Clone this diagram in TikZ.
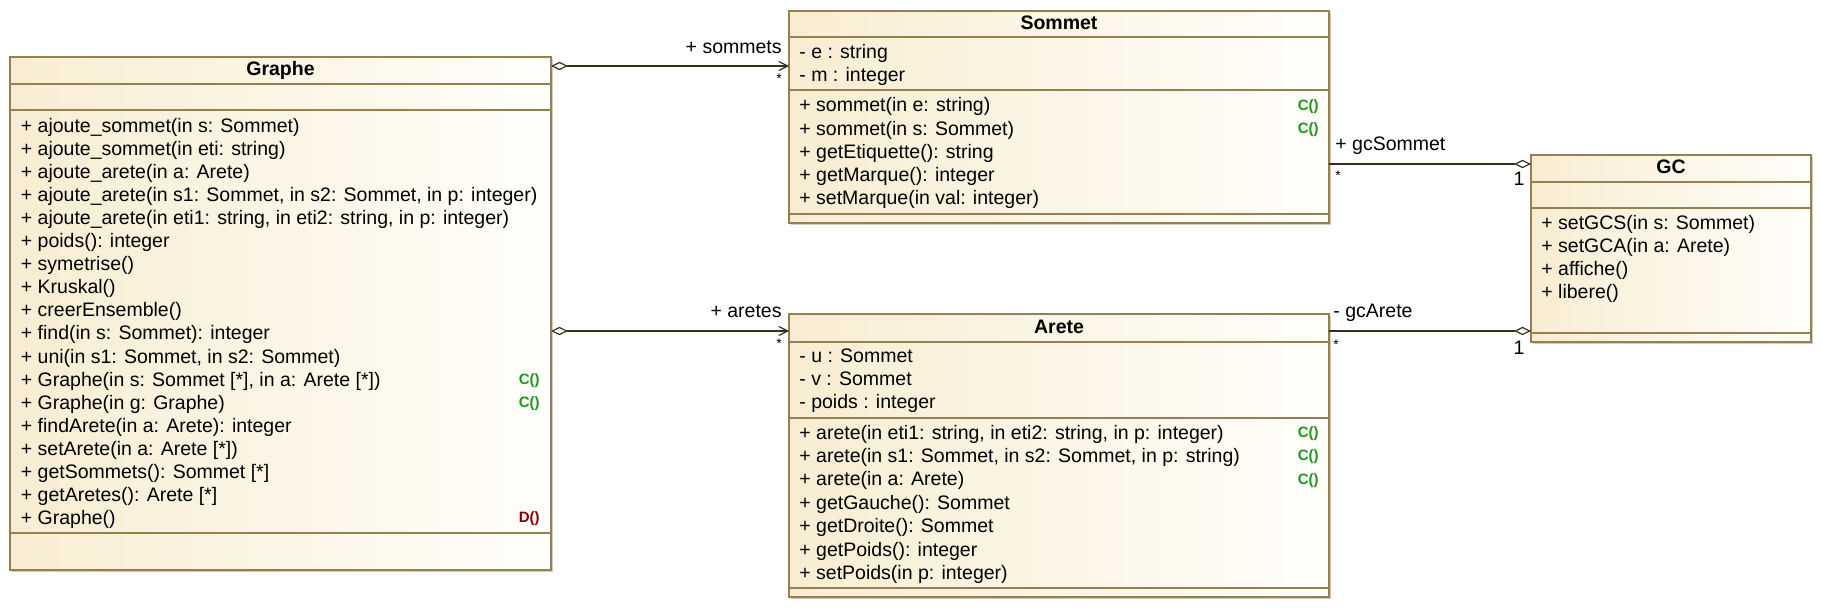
\documentclass[tikz,border=0pt]{standalone}
\usepackage{fontspec}
\setmainfont{Liberation Sans}
\usetikzlibrary{arrows.meta,calc}
\definecolor{bord}{RGB}{150,128,80}
\definecolor{fillL}{RGB}{248,237,210}
\definecolor{fillR}{RGB}{255,254,250}
\definecolor{shad}{RGB}{212,204,186}
\definecolor{lin}{RGB}{55,45,30}
\definecolor{cgreen}{RGB}{30,150,30}
\definecolor{dred}{RGB}{130,0,0}
\tikzset{
  classbox/.style={draw=bord, line width=0.6pt, left color=fillL, right color=fillR, inner sep=0pt, outer sep=0pt, anchor=north west},
  sepline/.style={draw=bord, line width=0.6pt},
  shadowbox/.style={fill=shad},
  txt/.style={font=\fontsize{9.75pt}{11.5pt}\selectfont, inner sep=0pt, text height=7.2pt, text depth=2.1pt, anchor=west},
  ttl/.style={font=\fontsize{9.75pt}{11.5pt}\selectfont\bfseries, inner sep=0pt, text height=7.2pt, text depth=2.1pt, anchor=center},
  ctor/.style={font=\fontsize{7.5pt}{8pt}\selectfont\bfseries, text=cgreen, inner sep=0pt, text height=5pt, text depth=1.5pt, anchor=east},
  dtor/.style={ctor, text=dred},
  mult/.style={font=\fontsize{7pt}{8pt}\selectfont, inner sep=0pt, anchor=base},
  conn/.style={draw=lin, line width=0.6pt},
  agg/.tip={Diamond[open, fill=white, length=8.5pt, width=4.2pt]},
  nav/.tip={Straight Barb[length=4.5pt, width=4.6pt]}
}
\begin{document}
\begin{tikzpicture}[x=0.5pt,y=-0.5pt]
\useasboundingbox (0,0) rectangle (1823,609);

% ---------- Graphe ----------
\fill[shadowbox] (12,59) rectangle (553,572);
\node[classbox, minimum width=270.5pt, minimum height=256.5pt] (graphe) at (10,57) {};
\draw[sepline] (10,84) -- (551,84);
\draw[sepline] (10,110) -- (551,110);
\draw[sepline] (10,533) -- (551,533);
\node[ttl] (gtitle) at (280.5,70.5) {Graphe};
\foreach \t [count=\i] in {
  {+ ajoute\_sommet(in s: Sommet)},
  {+ ajoute\_sommet(in eti: string)},
  {+ ajoute\_arete(in a: Arete)},
  {+ ajoute\_arete(in s1: Sommet, in s2: Sommet, in p: integer)},
  {+ ajoute\_arete(in eti1: string, in eti2: string, in p: integer)},
  {+ poids(): integer},
  {+ symetrise()},
  {+ Kruskal()},
  {+ creerEnsemble()},
  {+ find(in s: Sommet): integer},
  {+ uni(in s1: Sommet, in s2: Sommet)},
  {+ Graphe(in s: Sommet [*], in a: Arete [*])},
  {+ Graphe(in g: Graphe)},
  {+ findArete(in a: Arete): integer},
  {+ setArete(in a: Arete [*])},
  {+ getSommets(): Sommet [*]},
  {+ getAretes(): Arete [*]},
  {+ Graphe()}}
  \node[txt] (gm\i) at (20.5,{127.3+23.06*(\i-1)}) {\t};
\node[ctor] (gc1) at (540,{127.3+23.06*11}) {C()};
\node[ctor] (gc2) at (540,{127.3+23.06*12}) {C()};
\node[dtor] (gd1) at (540,{127.3+23.06*17}) {D()};

% ---------- Sommet ----------
\fill[shadowbox] (791,13) rectangle (1331,225);
\node[classbox, minimum width=270pt, minimum height=106pt] (sommet) at (789,11) {};
\draw[sepline] (789,37) -- (1329,37);
\draw[sepline] (789,90) -- (1329,90);
\draw[sepline] (789,214) -- (1329,214);
\node[ttl] (stitle) at (1059,24) {Sommet};
\node[txt] (sa1) at (799,53.3) {- e : string};
\node[txt] (sa2) at (799,76.7) {- m : integer};
\foreach \t [count=\i] in {
  {+ sommet(in e: string)},
  {+ sommet(in s: Sommet)},
  {+ getEtiquette(): string},
  {+ getMarque(): integer},
  {+ setMarque(in val: integer)}}
  \node[txt] (sm\i) at (799,{106.7+23.3*(\i-1)}) {\t};
\node[ctor] (sc1) at (1319,106.7) {C()};
\node[ctor] (sc2) at (1319,130) {C()};

% ---------- Arete ----------
\fill[shadowbox] (791,316) rectangle (1331,599);
\node[classbox, minimum width=270pt, minimum height=141.5pt] (arete) at (789,314) {};
\draw[sepline] (789,342) -- (1329,342);
\draw[sepline] (789,418) -- (1329,418);
\draw[sepline] (789,588) -- (1329,588);
\node[ttl] (atitle) at (1059,328) {Arete};
\node[txt] (aa1) at (799,357.7) {- u : Sommet};
\node[txt] (aa2) at (799,380.7) {- v : Sommet};
\node[txt] (aa3) at (799,403.5) {- poids : integer};
\foreach \t [count=\i] in {
  {+ arete(in eti1: string, in eti2: string, in p: integer)},
  {+ arete(in s1: Sommet, in s2: Sommet, in p: string)},
  {+ arete(in a: Arete)},
  {+ getGauche(): Sommet},
  {+ getDroite(): Sommet},
  {+ getPoids(): integer},
  {+ setPoids(in p: integer)}}
  \node[txt] (am\i) at (799,{434+23.4*(\i-1)}) {\t};
\node[ctor] (ac1) at (1319,434) {C()};
\node[ctor] (ac2) at (1319,457.4) {C()};
\node[ctor] (ac3) at (1319,480.8) {C()};

% ---------- GC ----------
\fill[shadowbox] (1533,157) rectangle (1813,344);
\node[classbox, minimum width=140pt, minimum height=93.5pt] (gc) at (1531,155) {};
\draw[sepline] (1531,182) -- (1811,182);
\draw[sepline] (1531,208) -- (1811,208);
\draw[sepline] (1531,333) -- (1811,333);
\node[ttl] (gctitle) at (1671,168) {GC};
\foreach \t [count=\i] in {
  {+ setGCS(in s: Sommet)},
  {+ setGCA(in a: Arete)},
  {+ affiche()},
  {+ libere()}}
  \node[txt] (gcm\i) at (1541,{224.3+23*(\i-1)}) {\t};

% ---------- connectors ----------
\coordinate (y1) at (0,66);
\coordinate (y2) at (0,331);
\coordinate (y3) at (0,164);
\coordinate (y4) at (0,331);
\draw[conn, {agg}-{nav}] (graphe.east |- y1) -- (sommet.west |- y1);
\draw[conn, {agg}-{nav}] (graphe.east |- y2) -- (arete.west |- y2);
\draw[conn, -{agg}] (sommet.east |- y3) -- (gc.west |- y3);
\draw[conn, -{agg}] (arete.east |- y4) -- (gc.west |- y4);

% ---------- connector labels ----------
\node[txt, anchor=east] (l1) at (782,48.3) {+ sommets};
\node[mult] (m1) at (779,84) {*};
\node[txt, anchor=east] (l2) at (782,312.3) {+ aretes};
\node[mult] (m2) at (779,348) {*};
\node[txt] (l3) at (1335,145.7) {+ gcSommet};
\node[mult, anchor=base west] (m3) at (1335,181) {*};
\node[txt, anchor=base] (m4) at (1519,186) {1};
\node[txt] (l4) at (1333,312.3) {- gcArete};
\node[mult, anchor=base west] (m5) at (1333,349) {*};
\node[txt, anchor=base] (m6) at (1519,354) {1};
\end{tikzpicture}
\end{document}
